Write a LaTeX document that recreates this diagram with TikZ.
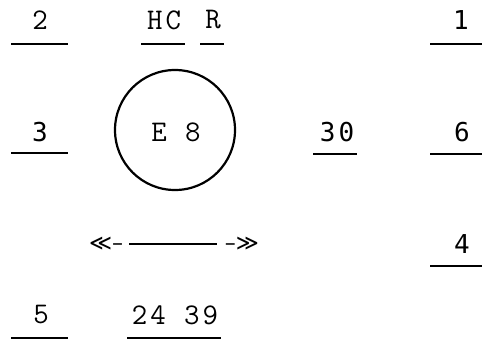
\documentclass[tikz,border=0pt]{standalone}
\usepackage{fontspec}
\usetikzlibrary{positioning}
\newfontfamily\lmmono[LetterSpace=10]{Latin Modern Mono}
\newfontfamily\dvmono[LetterSpace=12]{DejaVu Sans Mono}
\newfontfamily\dvsans{DejaVu Sans}
\tikzstyle{every node}=[inner sep=0pt]
\tikzstyle{ttlabel}=[font=\lmmono\fontsize{30}{30}\selectfont]
\tikzstyle{dvlabel}=[font=\dvmono\fontsize{26}{26}\selectfont]
\tikzstyle{dart}=[font=\dvsans\fontsize{22}{22}\selectfont]
\tikzstyle{uline}=[line width=1.4pt]
\begin{document}
\begin{tikzpicture}[x=1pt, y=-1pt]
            \useasboundingbox (0,0) rectangle (482,340);
            % top row
            \node[ttlabel] (two) at (40,20) {2};
            \node[ttlabel] (hc) at (164,20) {HC};
            \node[ttlabel] (r) at (213,20) {R};
            \node[dvlabel] (one) at (461,20) {1};
            \draw[uline] (11,44) -- (68,44);
            \draw[uline] (141,44) -- (185,44);
            \draw[uline] (200,44) -- (224,44);
            \draw[uline] (430,44) -- (482,44);
            % middle row
            \node[dvlabel] (three) at (40,132) {3};
            \node[circle, draw, line width=2.2pt, minimum size=120pt] (ring) at (175,130) {};
            \node[ttlabel] (e8) at (176,132) {E 8};
            \node[dvlabel] (thirty) at (337,132) {30};
            \node[dvlabel] (six) at (462,132) {6};
            \draw[uline] (11,153) -- (68,153);
            \draw[uline] (313,154) -- (357,154);
            \draw[uline] (430,154) -- (482,154);
            % arrow row
            \node[dart, anchor=west] (la) at (89,244) {≪–};
            \node[dart, anchor=east] (ra) at (259,244) {–≫};
            \draw[line width=1.2pt] (129,244) -- (217,244);
            \node[dvlabel] (four) at (462,244) {4};
            \draw[uline] (430,266) -- (482,266);
            % bottom row
            \node[ttlabel] (five) at (41,315) {5};
            \node[ttlabel] (nums) at (175,315) {24 39};
            \draw[uline] (11,338) -- (68,338);
            \draw[uline] (127,338) -- (221,338);
        \end{tikzpicture}
\end{document}
